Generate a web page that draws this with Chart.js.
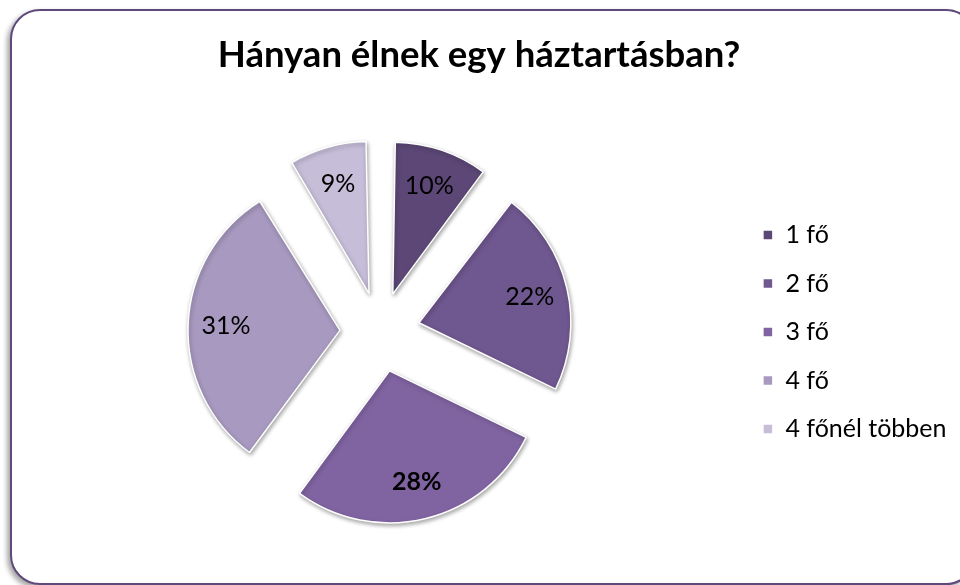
<!DOCTYPE html>
<html>
<head>
<meta charset="utf-8">
<script src="https://cdn.jsdelivr.net/npm/chart.js@4.4.0/dist/chart.umd.min.js"></script>
<style>
  html, body { margin: 0; padding: 0; background: #fff; }
  body { width: 960px; height: 585px; position: relative; overflow: hidden; }
  #frame {
    position: absolute; left: 10px; top: 9px; width: 966px; height: 576px;
    box-sizing: border-box; border: 2px solid #5f497a; border-radius: 30px;
    box-shadow: -3px 3px 5px rgba(0,0,0,0.35); background: #fff;
  }
  #wrap { position: absolute; left: 0; top: 0; width: 960px; height: 585px; }
</style>
</head>
<body>
<div id="frame"></div>
<div id="wrap"><canvas id="pie-chart" width="960" height="585"></canvas></div>
<script>
let categories = ['1 fő', '2 fő', '3 fő', '4 fő', '4 főnél többen'];
let shares = [10.4, 21.8, 27.9, 31.1, 8.8];
let sliceColors = ['#5c4776', '#6f578f', '#8064a2', '#a799bf', '#c6bdd8'];

let pieRadius = 152;
let pieShiftX = 9.5; // pie sits a bit right of the plot area centre, title stays centred

// chart.js grows narrow exploded slices a bit, keep every slice the same radius
// and put the percentage labels on them (3 fő in bold)
let sliceLabels = {
    id: 'sliceLabels',
    afterDatasetsUpdate: function (chart) {
        chart.getDatasetMeta(0).data.forEach(function (arc) {
            let circ = arc.endAngle - arc.startAngle;
            let off = arc.options.offset / 4;
            arc.outerRadius = pieRadius - off * (1 - Math.sin(Math.min(Math.PI, circ)));
            arc.x = (chart.chartArea.left + chart.chartArea.right) / 2 + pieShiftX;
        });
    },
    beforeDatasetsDraw: function (chart) {
        let ctx = chart.ctx;
        ctx.save();
        ctx.shadowColor = 'rgba(0,0,0,0.35)';
        ctx.shadowBlur = 4;
        ctx.shadowOffsetX = 1;
        ctx.shadowOffsetY = 2;
    },
    afterDatasetsDraw: function (chart) {
        let ctx = chart.ctx;
        ctx.restore();
        let meta = chart.getDatasetMeta(0);
        ctx.save();
        ctx.textAlign = 'center';
        ctx.textBaseline = 'middle';
        ctx.fillStyle = '#000';
        meta.data.forEach(function (arc, i) {
            let p = arc.getProps(['x', 'y', 'startAngle', 'endAngle'], true);
            let mid = (p.startAngle + p.endAngle) / 2;
            // arc element draws its offset divided by 4
            let d = arc.options.offset / 4 + pieRadius * 0.75;
            ctx.font = (i === 2 ? 'bold ' : '') + '25px Lato';
            ctx.fillText(Math.round(shares[i]) + '%', p.x + Math.cos(mid) * d, p.y + Math.sin(mid) * d);
        });
        ctx.restore();
    }
};

window.onload = function () {
    let ctx = document.getElementById('pie-chart').getContext('2d');
    let pieChart = new Chart(ctx, {
        type: 'pie',
        data: {
            labels: categories,
            datasets: [{
                data: shares,
                backgroundColor: sliceColors,
                borderColor: '#ffffff',
                borderWidth: 1.5,
                offset: 160
            }]
        },
        options: {
            responsive: false,
            animation: false,
            radius: pieRadius,
            layout: {
                padding: { left: 1.5, right: 3.5, top: 0, bottom: 21 }
            },
            plugins: {
                title: {
                    display: true,
                    text: 'Hányan élnek egy háztartásban?',
                    color: '#000',
                    font: { family: 'Lato', size: 36.5, weight: 'bold' },
                    padding: { top: 33.1, bottom: 23.1 }
                },
                legend: {
                    position: 'right',
                    fullSize: false,
                    labels: {
                        color: '#000',
                        boxWidth: 10,
                        boxHeight: 10,
                        padding: 23.5,
                        font: { family: 'Lato', size: 25 }
                    }
                },
                tooltip: { enabled: false }
            }
        },
        plugins: [sliceLabels]
    });
};
</script>
</body>
</html>
